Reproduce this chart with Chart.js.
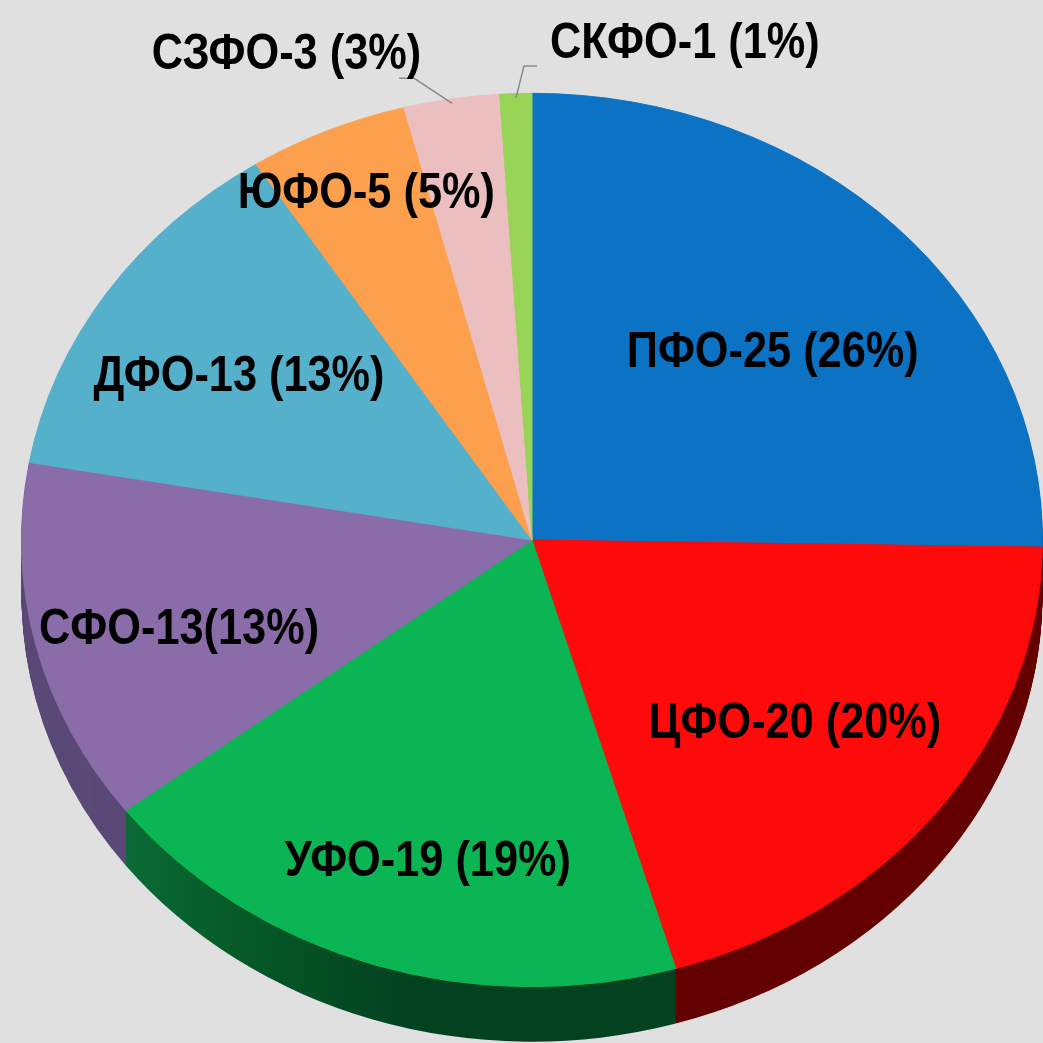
<!DOCTYPE html>
<html>
<head>
<meta charset="utf-8">
<script src="https://cdn.jsdelivr.net/npm/chart.js@4.4.1/dist/chart.umd.min.js"></script>
<style>
  html, body { margin: 0; padding: 0; background: #e0e0e0; }
  canvas { display: block; }
</style>
</head>
<body>
<canvas id="pie" width="1043" height="1043"></canvas>
<script>
// данные по округам
const regions = ["ПФО", "ЦФО", "УФО", "СФО", "ДФО", "ЮФО", "СЗФО", "СКФО"];
const counts = [25, 20, 19, 13, 13, 5, 3, 1];
const labelTexts = [
  "ПФО-25 (26%)", "ЦФО-20 (20%)", "УФО-19 (19%)", "СФО-13(13%)",
  "ДФО-13 (13%)", "ЮФО-5 (5%)", "СЗФО-3 (3%)", "СКФО-1 (1%)"
];

const colors = ["#0b72c4", "#ff0a0a", "#0bb553", "#8a6ca8", "#55b0cb", "#fca04e", "#ebbfbf", "#98d455"];
const sideColors = ["#04406e", "#640000", "#034221", "#5b4a78", "#2f6a7c", "#9a5a20", "#8a6a6a", "#4f7a2a"];

const tilt = 0.875;     // сплющивание для "3D"
const depth = 55;       // толщина боковины
const centerY = 540;
const narrow = 0.866;   // узкий шрифт (Arial Narrow нет)
const FONT = 'bold 50px "Liberation Sans Narrow", "Arial Narrow", "Liberation Sans", sans-serif';

// подписи внутри: доля радиуса и небольшой поворот (в градусах)
const insideLabels = {
  0: [0.63, 3], 1: [0.66, 1.4], 2: [0.75, -2.4], 3: [0.72, -2.6],
  4: [0.68, -1.2], 5: [0.84, 0.9]
};
// подписи снаружи: излом выноски, хвост, смещение текста
const outsideLabels = {
  6: { elbow: [-38, -25], tail: -15, text: [7, -23], align: "right" },
  7: { elbow: [8, -32], tail: 13, text: [26, -22], align: "left" }
};

function arcPath(ctx, a) {
  ctx.beginPath();
  ctx.moveTo(a.x, a.y);
  ctx.arc(a.x, a.y, a.outerRadius, a.startAngle, a.endAngle);
  ctx.closePath();
}

function label(ctx, text, x, y, align) {
  ctx.save();
  ctx.translate(x, y);
  ctx.scale(narrow, 1);
  ctx.textAlign = align;
  ctx.fillText(text, 0, 0);
  ctx.restore();
}

const pie3d = {
  id: "pie3d",
  beforeDatasetsDraw(chart) {
    const ctx = chart.ctx;
    const arcs = chart.getDatasetMeta(0).data;
    const cx = arcs[0].x, cy = arcs[0].y;
    // боковина
    for (let d = depth; d >= 1; d--) {
      ctx.save();
      ctx.translate(cx, centerY + d);
      ctx.scale(1, tilt);
      ctx.translate(-cx, -cy);
      arcs.forEach((a, i) => {
        arcPath(ctx, a);
        if (i === 2) {
          const g = ctx.createLinearGradient(cx - a.outerRadius * 0.82, 0, cx - a.outerRadius * 0.25, 0);
          g.addColorStop(0, "#0b6d35");
          g.addColorStop(0.5, "#055726");
          g.addColorStop(1, "#034221");
          ctx.fillStyle = g;
        } else {
          ctx.fillStyle = sideColors[i];
        }
        ctx.fill();
      });
      ctx.restore();
    }
    ctx.save();
    ctx.translate(cx, centerY);
    ctx.scale(1, tilt);
    ctx.translate(-cx, -cy);
  },
  afterDatasetsDraw(chart) {
    chart.ctx.restore();
  },
  afterDraw(chart) {
    const ctx = chart.ctx;
    const arcs = chart.getDatasetMeta(0).data;
    ctx.save();
    ctx.font = FONT;
    ctx.fillStyle = "#000";
    ctx.textBaseline = "middle";
    arcs.forEach((a, i) => {
      const mid = (a.startAngle + a.endAngle) / 2;
      if (insideLabels[i]) {
        const [f, turn] = insideLabels[i];
        const ang = mid + turn * Math.PI / 180;
        const x = a.x + Math.cos(ang) * a.outerRadius * f;
        const y = centerY + Math.sin(ang) * a.outerRadius * f * tilt;
        label(ctx, labelTexts[i], x, y, "center");
      } else if (outsideLabels[i]) {
        const o = outsideLabels[i];
        const ax = a.x + Math.cos(mid) * a.outerRadius * 0.99;
        const ay = centerY + Math.sin(mid) * a.outerRadius * 0.99 * tilt;
        const ex = ax + o.elbow[0], ey = ay + o.elbow[1];
        ctx.strokeStyle = "#8c8c8c";
        ctx.lineWidth = 1.5;
        ctx.beginPath();
        ctx.moveTo(ax, ay);
        ctx.lineTo(ex, ey);
        ctx.lineTo(ex + o.tail, ey);
        ctx.stroke();
        label(ctx, labelTexts[i], ex + o.text[0], ey + o.text[1], o.align);
      }
    });
    ctx.restore();
  }
};

new Chart(document.getElementById("pie"), {
  type: "pie",
  data: {
    labels: regions,
    datasets: [
      {
        data: counts,
        backgroundColor: colors,
        borderColor: colors,
        borderWidth: 1,
      },
    ],
  },
  options: {
    responsive: false,
    animation: false,
    events: [],
    layout: { padding: { left: 21, right: 0, top: 10, bottom: 11 } },
    plugins: {
      legend: { display: false },
      tooltip: { enabled: false },
    },
  },
  plugins: [pie3d],
});
</script>
</body>
</html>
